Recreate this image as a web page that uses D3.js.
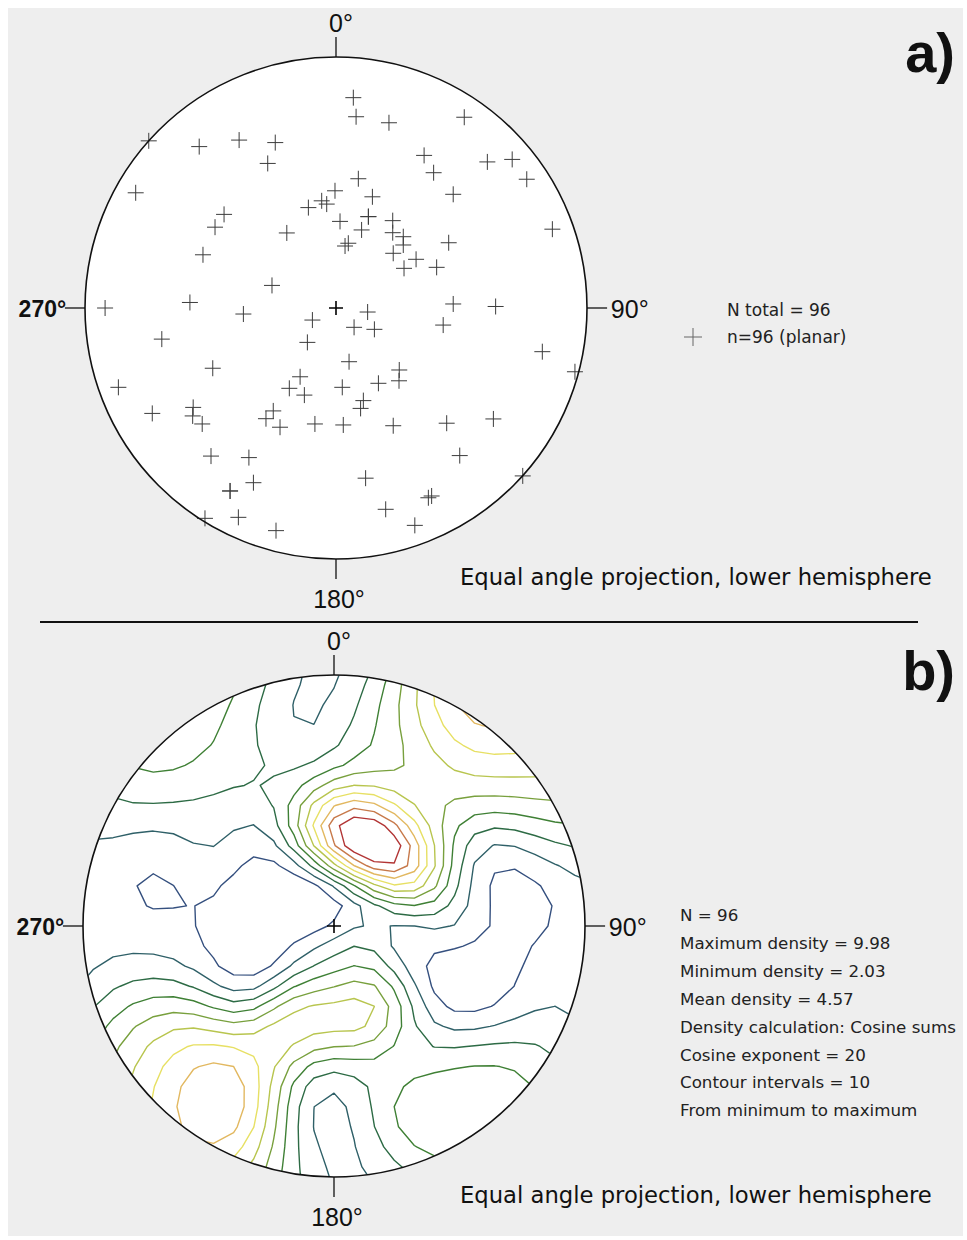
<!DOCTYPE html>
<html>
<head>
<meta charset="utf-8">
<script src="https://cdn.jsdelivr.net/npm/d3@7"></script>
<style>
body { margin: 0; background: #fff; }
</style>
</head>
<body>
<div id="chart"></div>
<script>
// Poles to planes read off plot a), in projected units (primitive circle radius = 1)
// east = right, north = up. 94 visible crosses + 2 hidden under others (n = 96)
var poleEast = [-0.746, -0.545, -0.386, -0.242, -0.272, -0.798, -0.446, -0.482, -0.196, -0.530,
  -0.255, -0.110, -0.057, -0.037, -0.582, -0.920, -0.369, 0.069, 0.080, 0.211,
  0.511, 0.351, 0.389, 0.603, 0.702, 0.760, 0.089, -0.004, 0.145, 0.467,
  0.862, 0.016, 0.129, 0.226, 0.102, 0.226, 0.268, 0.049, 0.036, 0.268,
  0.228, 0.319, 0.271, 0.401, 0.449, 0.467, 0.636, 0.126, -0.094, -0.114,
  -0.694, -0.491, -0.143, -0.186, -0.126, -0.867, -0.732, -0.569, -0.571, -0.533,
  -0.250, -0.279, -0.223, -0.084, -0.498, -0.347, -0.329, -0.422, -0.522, -0.389,
  -0.239, 0.072, 0.153, 0.427, 0.822, 0.952, 0.052, 0.252, 0.251, 0.169,
  0.025, 0.109, 0.098, 0.029, 0.228, 0.441, 0.627, 0.493, 0.744, 0.118,
  0.368, 0.381, 0.198, 0.314, 0.129, -0.422];
var poleNorth = [0.666, 0.643, 0.669, 0.659, 0.576, 0.459, 0.373, 0.322, 0.299, 0.212,
  0.090, 0.400, 0.427, 0.414, 0.022, 0.000, -0.024, 0.838, 0.762, 0.738,
  0.760, 0.608, 0.539, 0.582, 0.592, 0.513, 0.515, 0.467, 0.443, 0.453,
  0.314, 0.345, 0.364, 0.348, 0.311, 0.300, 0.284, 0.258, 0.247, 0.251,
  0.218, 0.194, 0.158, 0.162, 0.260, 0.016, 0.006, -0.016, -0.048, -0.137,
  -0.124, -0.240, -0.274, -0.320, -0.347, -0.316, -0.420, -0.396, -0.430, -0.462,
  -0.410, -0.441, -0.475, -0.462, -0.590, -0.596, -0.696, -0.729, -0.838, -0.834,
  -0.887, -0.077, -0.085, -0.068, -0.174, -0.254, -0.214, -0.247, -0.290, -0.300,
  -0.316, -0.369, -0.400, -0.466, -0.469, -0.459, -0.442, -0.588, -0.669, -0.678,
  -0.756, -0.749, -0.802, -0.866, 0.364, -0.729];

var directions = [0, 90, 180, 270];
var directionLabels = ["0°", "90°", "180°", "270°"];

var legendA = ["N total = 96", "n=96 (planar)"];
var legendB = ["N = 96", "Maximum density = 9.98", "Minimum density = 2.03", "Mean density = 4.57",
  "Density calculation: Cosine sums", "Cosine exponent = 20", "Contour intervals = 10",
  "From minimum to maximum"];
var caption = "Equal angle projection, lower hemisphere";

var densityMin = 2.03;
var densityMax = 9.98;
var cosineExponent = 20;
var contourIntervals = 10;

// low -> high
var contourColors = ["#35507f", "#2f6068", "#2d6b45", "#3f8035", "#78a03d",
  "#b8c54e", "#e7e064", "#e2b860", "#c7794a", "#b23535"];

var width = 967, height = 1240;
var R = 251;

var svg = d3.select("#chart").append("svg")
    .attr("width", width)
    .attr("height", height);

svg.append("rect")
    .attr("x", 8).attr("y", 8)
    .attr("width", width - 12).attr("height", height - 12)
    .attr("fill", "#eeeeee");

// frame of a stereonet: white disc, ticks, labels. returns scales
function stereonet(cx, cy) {
  var g = svg.append("g");
  var x = d3.scaleLinear().domain([-1, 1]).range([cx - R, cx + R]);
  var y = d3.scaleLinear().domain([-1, 1]).range([cy + R, cy - R]);

  g.append("circle")
      .attr("cx", cx).attr("cy", cy).attr("r", R)
      .attr("fill", "#fff");

  directions.forEach(function(az, i) {
    var a = az * Math.PI / 180;
    var sx = Math.sin(a), sy = Math.cos(a);
    g.append("line")
        .attr("x1", x(sx)).attr("y1", y(sy))
        .attr("x2", x(sx * 1.08)).attr("y2", y(sy * 1.08))
        .attr("stroke", "#111").attr("stroke-width", 1.3);
    var t = g.append("text")
        .text(directionLabels[i])
        .attr("font-family", "Liberation Sans, Arial, sans-serif")
        .attr("font-size", 25)
        .attr("fill", "#111");
    if (az == 0) t.attr("x", x(0) + 5).attr("y", y(1.1)).attr("text-anchor", "middle");
    if (az == 180) t.attr("x", x(0) + 3).attr("y", y(-1.1) + 24).attr("text-anchor", "middle");
    if (az == 90) t.attr("x", x(1.095)).attr("y", y(0) + 10);
    if (az == 270) t.attr("x", x(-1.075)).attr("y", y(0) + 9).attr("text-anchor", "end")
        .attr("font-weight", "bold").attr("font-size", 23);
  });

  return {g: g, x: x, y: y, cx: cx, cy: cy};
}

function cross(g, px, py, arm, color, sw) {
  g.append("path")
      .attr("d", "M" + (px - arm) + "," + py + "H" + (px + arm) + "M" + px + "," + (py - arm) + "V" + (py + arm))
      .attr("stroke", color).attr("stroke-width", sw).attr("fill", "none");
}

function outline(net) {
  net.g.append("circle")
      .attr("cx", net.cx).attr("cy", net.cy).attr("r", R)
      .attr("fill", "none").attr("stroke", "#111").attr("stroke-width", 1.6);
  cross(net.g, net.x(0), net.y(0), 7, "#000", 1.6);
}

// ---------- a) poles ----------
var netA = stereonet(336, 308);
poleEast.forEach(function(e, i) {
  cross(netA.g, netA.x(e), netA.y(poleNorth[i]), 8, "#3c3c3c", 1);
});
outline(netA);

// ---------- b) density contours ----------
var netB = stereonet(334, 926);

// inverse stereographic projection, lower hemisphere
function toVec(X, Y) {
  var r = Math.sqrt(X * X + Y * Y);
  if (r === 0) return [0, 0, 1];
  var th = 2 * Math.atan(r), s = Math.sin(th);
  return [s * X / r, s * Y / r, Math.cos(th)];
}
var poleVecs = poleEast.map(function(e, i) { return toVec(e, poleNorth[i]); });

var n = 29, lo = -1.12, step = -2 * lo / (n - 1);
var values = new Array(n * n);
for (var j = 0; j < n; j++) {
  for (var i = 0; i < n; i++) {
    var v = toVec(lo + i * step, -lo - j * step);
    values[j * n + i] = d3.sum(poleVecs, function(p) {
      return Math.pow(Math.abs(p[0] * v[0] + p[1] * v[1] + p[2] * v[2]), cosineExponent);
    });
  }
}

var levels = d3.range(1, contourIntervals + 1).map(function(k) {
  return densityMin + k * (densityMax - densityMin) / (contourIntervals + 1);
});
var color = d3.scaleOrdinal().domain(levels).range(contourColors);

var gridPath = d3.geoPath(d3.geoTransform({
  point: function(gx, gy) {
    this.stream.point(netB.x(lo + (gx - 0.5) * step), netB.y(-lo - (gy - 0.5) * step));
  }
}));

svg.append("clipPath").attr("id", "disc")
  .append("circle").attr("cx", netB.cx).attr("cy", netB.cy).attr("r", R - 0.5);

netB.g.append("g")
    .attr("clip-path", "url(#disc)")
  .selectAll("path")
  .data(d3.contours().size([n, n]).thresholds(levels)(values))
  .join("path")
    .attr("d", gridPath)
    .attr("fill", "none")
    .attr("stroke", function(d) { return color(d.value); })
    .attr("stroke-width", 1.4)
    .attr("stroke-linejoin", "round");
outline(netB);

// ---------- texts ----------
function bigLabel(txt, yy) {
  svg.append("text").text(txt)
      .attr("x", 955).attr("y", yy).attr("text-anchor", "end")
      .attr("font-family", "Liberation Sans, Arial, sans-serif")
      .attr("font-weight", "bold").attr("font-size", 56).attr("fill", "#111");
}
bigLabel("a)", 72);
bigLabel("b)", 690);

function captionText(yy) {
  svg.append("text").text(caption)
      .attr("x", 460).attr("y", yy)
      .attr("font-family", "DejaVu Sans, sans-serif")
      .attr("font-size", 22.7).attr("fill", "#111");
}
captionText(585);
captionText(1203);

svg.append("line")
    .attr("x1", 40).attr("x2", 918).attr("y1", 622).attr("y2", 622)
    .attr("stroke", "#111").attr("stroke-width", 2);

svg.selectAll(".legA").data(legendA).join("text")
    .attr("x", 727).attr("y", function(d, i) { return 316 + i * 27; })
    .attr("font-family", "DejaVu Sans, sans-serif")
    .attr("font-size", 17).attr("fill", "#222")
    .text(function(d) { return d; });
cross(svg, 693, 337, 9, "#666", 1);

svg.selectAll(".legB").data(legendB).join("text")
    .attr("x", 680).attr("y", function(d, i) { return 921 + i * 27.9; })
    .attr("font-family", "DejaVu Sans, sans-serif")
    .attr("font-size", 16.7).attr("fill", "#222")
    .text(function(d) { return d; });
</script>
</body>
</html>
